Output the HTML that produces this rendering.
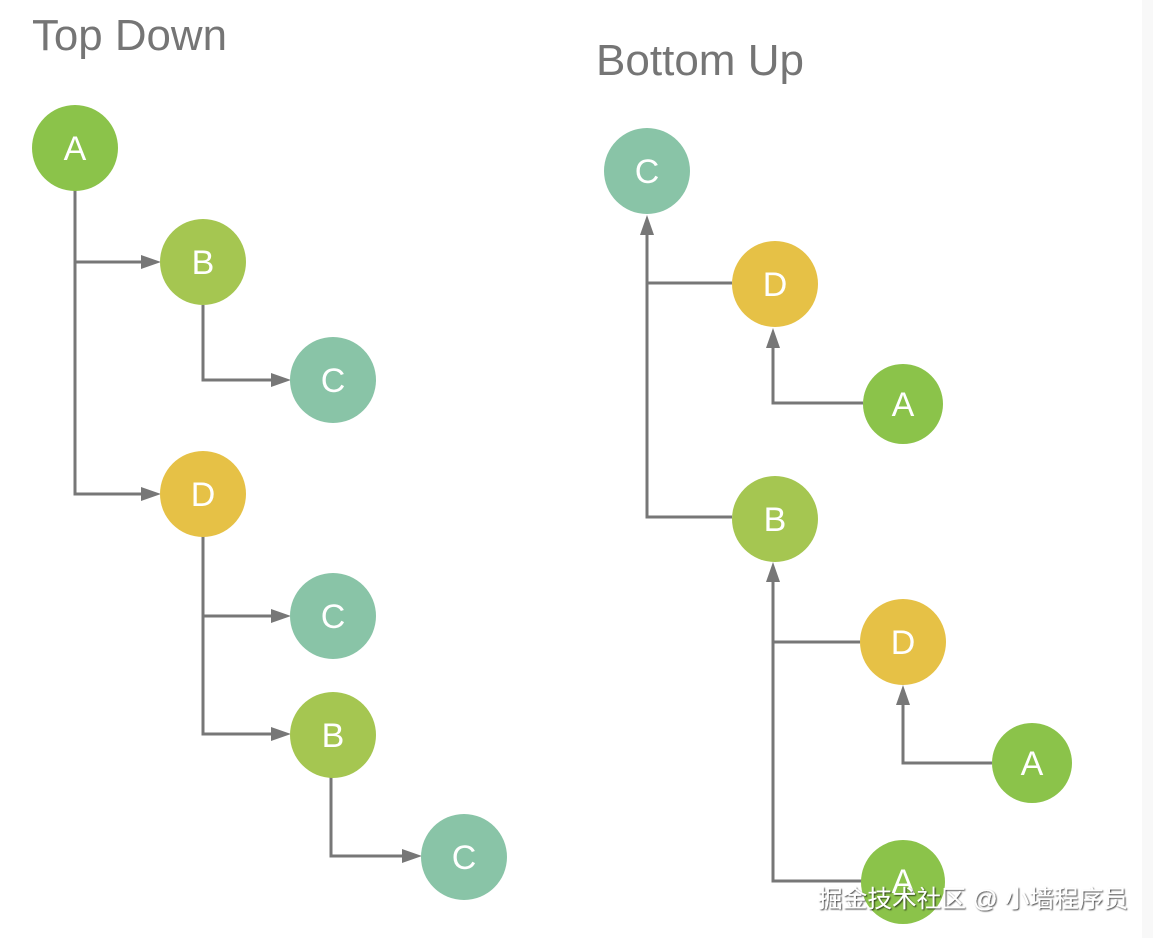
<!DOCTYPE html>
<html><head><meta charset="utf-8"><style>
html,body{margin:0;padding:0;background:#fff;width:1153px;height:938px;overflow:hidden}
svg{display:block}
</style></head><body>
<svg width="1153" height="938" viewBox="0 0 1153 938" xmlns="http://www.w3.org/2000/svg">
<defs>
<filter id="sh" x="-5%" y="-20%" width="110%" height="140%"><feDropShadow dx="1" dy="1" stdDeviation="0.8" flood-color="#000" flood-opacity="0.75"/></filter>
</defs>
<rect x="1142" y="0" width="11" height="938" fill="#f8f8f8"/>
<g font-family="Liberation Sans, sans-serif" fill="#757575" font-weight="300">
<text x="32" y="50" font-size="44" textLength="195" lengthAdjust="spacingAndGlyphs">Top Down</text>
<text x="596" y="75" font-size="44" textLength="208" lengthAdjust="spacingAndGlyphs">Bottom Up</text>
</g>
<g stroke="#777" stroke-width="3" fill="none">
<!-- left -->
<path d="M75 190 V494 H145"/>
<path d="M75 262 H145"/>
<path d="M203 305 V380 H275"/>
<path d="M203 536 V734 H275"/>
<path d="M203 616 H275"/>
<path d="M331 777 V856 H406"/>
<!-- right -->
<path d="M732 517 H647 V230"/>
<path d="M647 283 H732"/>
<path d="M863 403 H773 V343"/>
<path d="M862 881 H773 V577"/>
<path d="M773 642 H860"/>
<path d="M992 763 H903 V700"/>
</g>
<g fill="#777">
<polygon points="161,262 141,255 141,269"/>
<polygon points="161,494 141,487 141,501"/>
<polygon points="291,380 271,373 271,387"/>
<polygon points="291,616 271,609 271,623"/>
<polygon points="291,734 271,727 271,741"/>
<polygon points="422,856 402,849 402,863"/>
<polygon points="647,215 640,235 654,235"/>
<polygon points="773,328 766,348 780,348"/>
<polygon points="773,562 766,582 780,582"/>
<polygon points="903,685 896,705 910,705"/>
</g>
<g>
<circle cx="75" cy="148" r="43" fill="#8bc34a"/>
<circle cx="203" cy="262" r="43" fill="#a5c651"/>
<circle cx="333" cy="380" r="43" fill="#89c4a7"/>
<circle cx="203" cy="494" r="43" fill="#e6c146"/>
<circle cx="333" cy="616" r="43" fill="#89c4a7"/>
<circle cx="333" cy="735" r="43" fill="#a5c651"/>
<circle cx="464" cy="857" r="43" fill="#89c4a7"/>
<circle cx="647" cy="171" r="43" fill="#89c4a7"/>
<circle cx="775" cy="284" r="43" fill="#e6c146"/>
<circle cx="903" cy="404" r="40" fill="#8bc34a"/>
<circle cx="775" cy="519" r="43" fill="#a5c651"/>
<circle cx="903" cy="642" r="43" fill="#e6c146"/>
<circle cx="1032" cy="763" r="40" fill="#8bc34a"/>
<circle cx="903" cy="882" r="42" fill="#8bc34a"/>
</g>
<g font-family="Liberation Sans, sans-serif" font-size="34" fill="#fff" text-anchor="middle" font-weight="300">
<text x="75" y="160">A</text>
<text x="203" y="274">B</text>
<text x="333" y="392">C</text>
<text x="203" y="506">D</text>
<text x="333" y="628">C</text>
<text x="333" y="747">B</text>
<text x="464" y="869">C</text>
<text x="647" y="183">C</text>
<text x="775" y="296">D</text>
<text x="903" y="416">A</text>
<text x="775" y="531">B</text>
<text x="903" y="654">D</text>
<text x="1032" y="775">A</text>
<text x="903" y="893">A</text>
</g>
<text x="818" y="907" font-family="Liberation Sans, Noto Sans CJK SC, sans-serif" font-size="24" fill="#fff" filter="url(#sh)" textLength="310" lengthAdjust="spacingAndGlyphs">掘金技术社区 @ 小墙程序员</text>
</svg>
</body></html>
